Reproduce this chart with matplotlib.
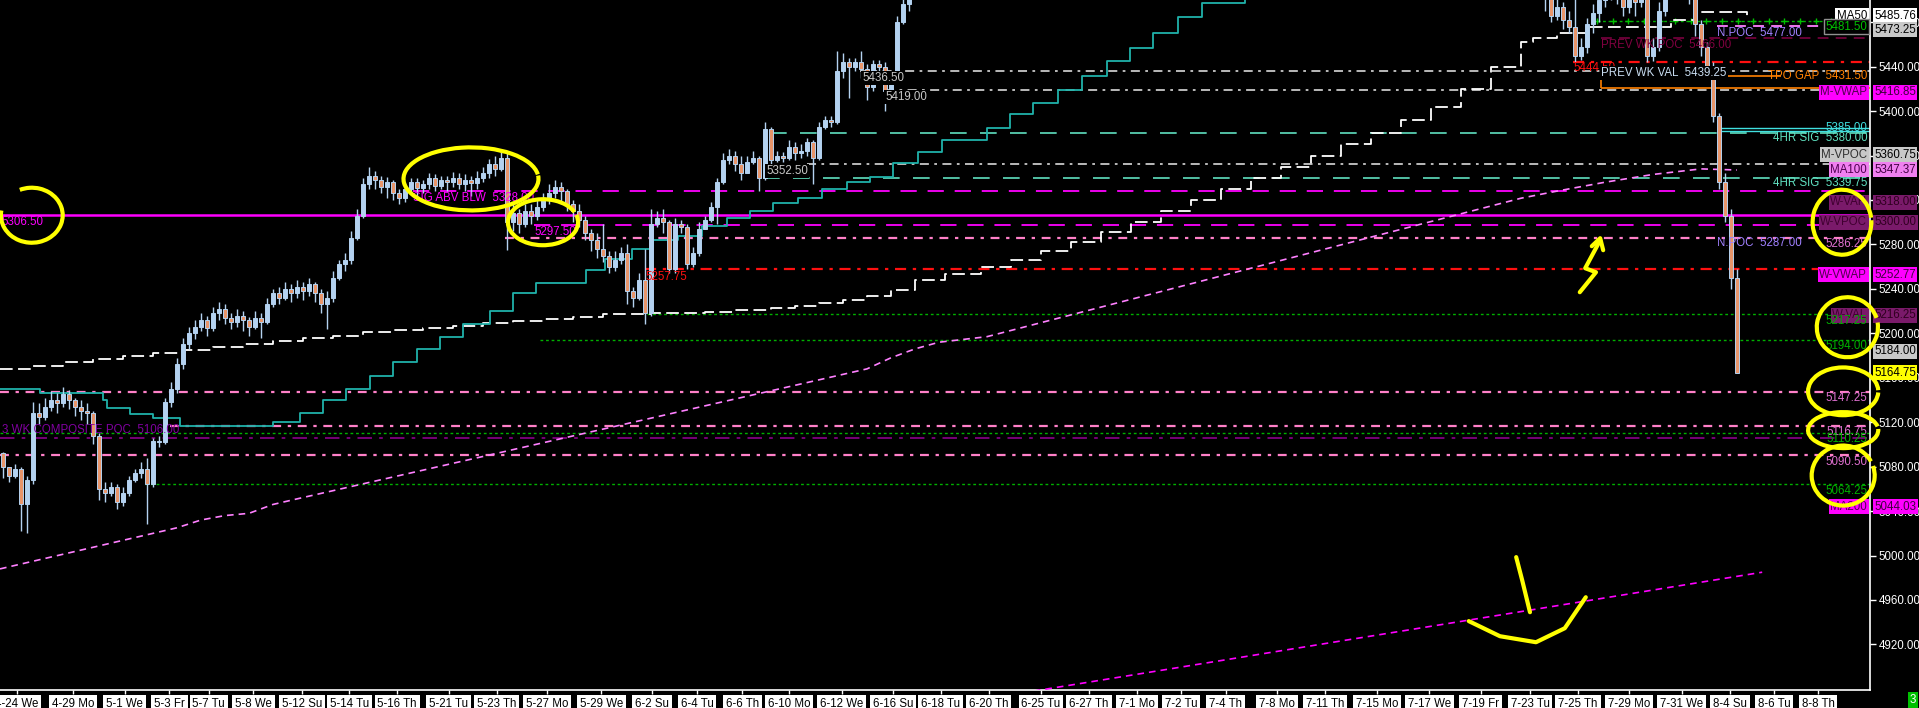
#### Workspace setup ####
import matplotlib.pyplot as plt
from matplotlib.patches import Arc

plt.rcParams['font.family'] = ['Liberation Sans', 'DejaVu Sans']
FS = 8.3
plt.rcParams['font.size'] = FS

#### Data ####
# date ticks, in bar units (one bar = one candle slot)
tick_bars = [2.3, 11.7, 20.3, 27.7, 34.3, 41.7, 49.8, 57.7, 65.7, 74.3, 82.3, 90.7, 99.7,
             108.2, 115.7, 123.2, 131.0, 139.8, 148.3, 156.3, 164.3, 173.0, 181.0, 189.0,
             196.3, 203.8, 212.3, 220.3, 229.0, 237.7, 246.3, 254.5, 262.5, 271.0, 279.8,
             287.8, 295.2, 302.5]
tick_labels = ['4-24 We', '4-29 Mo', '5-1 We', '5-3 Fr', '5-7 Tu', '5-8 We', '5-12 Su',
               '5-14 Tu', '5-16 Th', '5-21 Tu', '5-23 Th', '5-27 Mo', '5-29 We', '6-2 Su',
               '6-4 Tu', '6-6 Th', '6-10 Mo', '6-12 We', '6-16 Su', '6-18 Tu', '6-20 Th',
               '6-25 Tu', '6-27 Th', '7-1 Mo', '7-2 Tu', '7-4 Th', '7-8 Mo', '7-11 Th',
               '7-15 Mo', '7-17 We', '7-19 Fr', '7-23 Tu', '7-25 Th', '7-29 Mo', '7-31 We',
               '8-4 Su', '8-6 Tu', '8-8 Th']
price_ticks = [4920, 4960, 5000, 5040, 5080, 5120, 5160, 5200, 5240, 5280, 5320, 5360,
               5400, 5440, 5480]

# candles, first block (starts at bar 0)
seg1_open = 5092
seg1_close = [5080, 5072, 5078, 5046, 5068, 5128, 5125, 5134, 5140, 5137,
              5145, 5140, 5134, 5130, 5128, 5108, 5060, 5056, 5062, 5048,
              5056, 5068, 5074, 5078, 5064, 5103, 5102, 5138, 5150, 5172,
              5190, 5200, 5206, 5212, 5205, 5218, 5222, 5214, 5210, 5216,
              5212, 5206, 5214, 5210, 5226, 5236, 5232, 5240, 5236, 5242,
              5238, 5244, 5236, 5226, 5232, 5250, 5262, 5266, 5286, 5306,
              5334, 5342, 5338, 5332, 5336, 5326, 5322, 5330, 5336, 5331,
              5334, 5340, 5333, 5338, 5336, 5340, 5334, 5338, 5335, 5340,
              5344, 5352, 5348, 5358, 5300, 5308, 5298, 5310, 5306, 5314,
              5320, 5326, 5332, 5328, 5316, 5310, 5302, 5290, 5284, 5276,
              5270, 5260, 5266, 5272, 5238, 5232, 5248, 5218, 5298, 5304,
              5300, 5258, 5298, 5296, 5262, 5272, 5294, 5302, 5314, 5336,
              5356, 5360, 5352, 5344, 5354, 5358, 5340, 5384, 5356, 5360,
              5358, 5368, 5362, 5364, 5372, 5358, 5386, 5392, 5390, 5436,
              5444, 5440, 5444, 5438, 5422, 5442, 5440, 5418, 5430, 5480,
              5496, 5510]
seg1_high = [5093, 5080, 5082, 5080, 5072, 5138, 5137, 5142, 5148, 5146,
             5152, 5149, 5142, 5140, 5137, 5130, 5110, 5066, 5066, 5064,
             5062, 5072, 5078, 5084, 5088, 5106, 5108, 5142, 5156, 5178,
             5196, 5206, 5212, 5218, 5216, 5224, 5228, 5226, 5218, 5222,
             5220, 5215, 5220, 5218, 5232, 5240, 5242, 5246, 5244, 5248,
             5246, 5250, 5246, 5240, 5238, 5256, 5266, 5272, 5292, 5312,
             5340, 5350, 5346, 5342, 5341, 5338, 5330, 5335, 5340, 5340,
             5338, 5344, 5343, 5342, 5342, 5345, 5344, 5343, 5342, 5346,
             5350, 5357, 5360, 5364, 5362, 5316, 5312, 5316, 5316, 5320,
             5326, 5334, 5338, 5336, 5330, 5320, 5316, 5306, 5294, 5290,
             5298, 5274, 5274, 5278, 5280, 5242, 5254, 5276, 5312, 5310,
             5312, 5302, 5304, 5302, 5298, 5278, 5300, 5306, 5318, 5340,
             5362, 5366, 5364, 5360, 5360, 5364, 5360, 5390, 5386, 5364,
             5363, 5374, 5372, 5370, 5376, 5374, 5390, 5396, 5396, 5454,
             5452, 5448, 5448, 5454, 5442, 5446, 5446, 5444, 5436, 5486,
             5504, 5520]
seg1_low = [5070, 5066, 5070, 5022, 5020, 5064, 5118, 5122, 5130, 5128,
            5134, 5132, 5126, 5122, 5118, 5100, 5050, 5048, 5054, 5042,
            5045, 5054, 5066, 5070, 5028, 5062, 5098, 5100, 5134, 5146,
            5168, 5186, 5195, 5202, 5198, 5202, 5212, 5208, 5204, 5206,
            5202, 5198, 5204, 5196, 5208, 5224, 5226, 5230, 5228, 5232,
            5230, 5234, 5228, 5218, 5204, 5228, 5248, 5256, 5262, 5284,
            5304, 5330, 5330, 5326, 5322, 5320, 5316, 5318, 5326, 5324,
            5326, 5330, 5328, 5330, 5328, 5332, 5330, 5328, 5324, 5330,
            5336, 5340, 5342, 5346, 5275, 5292, 5290, 5296, 5298, 5302,
            5310, 5316, 5322, 5318, 5310, 5300, 5296, 5284, 5274, 5268,
            5264, 5254, 5256, 5262, 5226, 5224, 5230, 5208, 5216, 5296,
            5290, 5254, 5254, 5290, 5258, 5260, 5270, 5294, 5300, 5298,
            5334, 5352, 5346, 5338, 5348, 5352, 5328, 5338, 5352, 5354,
            5354, 5356, 5356, 5358, 5360, 5334, 5356, 5384, 5386, 5388,
            5430, 5412, 5436, 5430, 5410, 5418, 5432, 5400, 5416, 5428,
            5478, 5490]

# candles, second block (late July into the Aug 5 drop)
seg2_start = 257
seg2_open = 5520
seg2_close = [5510, 5486, 5494, 5482, 5476, 5450, 5458, 5478, 5488, 5500, 5510,
              5520, 5508, 5494, 5506, 5498, 5512, 5450, 5458, 5490, 5508, 5520,
              5530, 5518, 5505, 5478, 5458, 5440, 5396, 5336, 5306, 5250, 5164.75]
seg2_high = [5530, 5512, 5505, 5498, 5490, 5504, 5466, 5484, 5496, 5512, 5520,
             5530, 5524, 5512, 5514, 5512, 5520, 5516, 5466, 5498, 5520, 5530,
             5540, 5534, 5522, 5508, 5482, 5462, 5444, 5398, 5344, 5312, 5258]
seg2_low = [5490, 5480, 5482, 5474, 5470, 5444, 5446, 5452, 5470, 5480, 5494,
            5500, 5496, 5486, 5488, 5486, 5494, 5444, 5445, 5454, 5486, 5504,
            5512, 5510, 5496, 5468, 5450, 5436, 5390, 5330, 5300, 5240, 5164.75]

# MA50 (stepped, white)
ma50_bars = [-0.5, 5, 10, 15, 20, 25, 30, 35, 40, 45, 50, 55, 60, 65, 70, 75, 80, 85, 90,
             95, 100, 108, 117, 122, 128, 132, 136, 140, 144, 148, 152, 157, 163, 168, 173,
             178, 183, 188, 193, 198, 203, 208, 213, 218, 223, 228, 233, 238, 243, 248, 253,
             255, 259, 264, 278, 282, 288, 290.7]
ma50_vals = [5168, 5171, 5174, 5177, 5180, 5182, 5185, 5188, 5190, 5193, 5196, 5198, 5201,
             5203, 5205, 5207, 5209, 5211, 5213, 5215, 5217, 5218, 5219, 5221, 5223, 5225,
             5227, 5230, 5234, 5239, 5248, 5253, 5260, 5266, 5274, 5282, 5291, 5300, 5310,
             5320, 5330, 5340, 5350, 5360, 5370, 5380, 5392, 5404, 5420, 5440, 5462, 5466,
             5470, 5476, 5482, 5489, 5489, 5486]

# MA100 (pink dashed)
ma100_bars = [-0.5, 29, 33, 37, 41, 45, 49, 144, 148, 152, 156, 164, 253, 259, 267, 275, 283, 289]
ma100_vals = [4988, 5025, 5032, 5036, 5038, 5046, 5051, 5168, 5178, 5186, 5192, 5197,
              5321.6, 5328, 5336, 5343, 5348, 5347]

# lower magenta average
ma_low_bars = [171.8, 293.2]
ma_low_vals = [4878, 4985]

# 4HR signal step line (teal)
sig_bars = [-0.5, 6.2, 16.7, 17.3, 21.2, 25, 29.5, 45, 49.5, 53.3, 57.2, 61.2, 65, 69, 72.8,
            76.7, 81.2, 85, 88.8, 97.2, 100.3, 104.8, 108.3, 112.5, 116.5, 120.7, 124.5,
            128.3, 132.5, 136.5, 140.7, 144.5, 148.3, 152.5, 156.5, 164, 167.8, 171.7, 175.8,
            179.8, 184, 187.8, 191.7, 195.8, 199.8, 207]
sig_vals = [5150, 5146, 5140, 5133, 5127, 5124, 5117, 5120, 5128, 5140, 5150, 5162, 5174,
            5186, 5197, 5208, 5220, 5236, 5245, 5257, 5267, 5276, 5284, 5288, 5297, 5304,
            5310, 5317, 5322, 5330, 5336, 5341, 5353, 5363, 5374, 5385, 5397, 5407, 5419,
            5431.5, 5445, 5456.6, 5470, 5485, 5497, 5510]

# horizontal levels
level_prices = [5306.50, 5328.00, 5297.50, 5286.25, 5257.75, 5217.25, 5194.00, 5147.25,
                5116.75, 5110.25, 5106.00, 5090.50, 5064.25, 5380.00, 5339.75, 5352.50,
                5436.50, 5419.00, 5444.50, 5466.00, 5477.00, 5385.00, 5382.50]
level_starts = [-0.5, 68.3, 88.5, 83.7, 107, 107.3, 89.5, -0.5, 27.8, -0.5, -0.5, -0.5, 23.7,
                127.8, 126.7, 134, 142.8, 147, 261.7, 266.3, 285.7, 285.8, 285.8]
level_kinds = ['magenta', 'magenta_dash', 'magenta_dash', 'pink', 'red', 'green', 'green',
               'pink', 'pink', 'green', 'purple', 'pink', 'green', 'mint', 'mint', 'gray',
               'gray', 'gray', 'red', 'maroon', 'npoc', 'cyan', 'cyan']

#### Styles ####
BG = 'black'
UP = '#b4d2f0'
DOWN = '#e8956a'
LINE_STYLE = {
    'magenta': dict(color='#ff00ff', ls='-', lw=1.8),
    'magenta_dash': dict(color='#ff00ff', ls=(0, (9, 6)), lw=1.3),
    'pink': dict(color='#ff80c8', ls=(0, (4, 3, 1.5, 3)), lw=1.6),
    'red': dict(color='#ff1010', ls=(0, (5, 3, 1.5, 3)), lw=1.6),
    'green': dict(color='#00b000', ls=(0, (2, 2)), lw=1.0),
    'purple': dict(color='#800080', ls=(0, (8, 4, 2, 4)), lw=1.3),
    'mint': dict(color='#60e0c0', ls=(0, (10, 8)), lw=1.2),
    'gray': dict(color='#c8c8c8', ls=(0, (5, 3, 1.5, 3)), lw=1.3),
    'maroon': dict(color='#70003a', ls=(0, (6, 4)), lw=1.3),
    'npoc': dict(color='#ff80ff', ls=(0, (6, 4)), lw=1.3),
    'cyan': dict(color='#40e0e0', ls='-', lw=1.0),
}


#### Helper functions ####
def draw_candles(ax, start, first_open, closes, highs, lows):
    '''
    Draws a block of candles, open of each bar = close of the bar before.
    '''
    opens = [first_open] + closes[:-1]
    xs = [start + i for i in range(len(closes))]
    ax.vlines(xs, lows, highs, color=UP, lw=1, zorder=4)
    bottoms = [min(o, c) for o, c in zip(opens, closes)]
    heights = [max(abs(c - o), 1.2) for o, c in zip(opens, closes)]
    faces = [UP if c >= o else DOWN for o, c in zip(opens, closes)]
    ax.bar(xs, heights, bottom=bottoms, width=0.62, color=faces, edgecolor=UP,
           linewidth=0.7, zorder=5)


def inner_label(ax, price, text, color, face=None, va='center', edge='none'):
    '''
    Label that sits just left of the price axis.
    '''
    box = None if face is None else dict(boxstyle='square,pad=0.12', fc=face, ec=edge, lw=1)
    ax.text(0.9985, price, text, transform=ax.get_yaxis_transform(), ha='right', va=va,
            color=color, fontsize=FS, zorder=9, bbox=box)


def axis_tag(ax, price, text, face, color='black'):
    '''
    Coloured box on the price axis.
    '''
    ax.text(1.0022, price, text, transform=ax.get_yaxis_transform(), ha='left', va='center',
            color=color, fontsize=FS, zorder=11, clip_on=False,
            bbox=dict(boxstyle='square,pad=0.13', fc=face, ec='none'))


def chart_label(ax, bar, price, text, color, va='top', face=None):
    box = None if face is None else dict(boxstyle='square,pad=0.08', fc=face, ec='none')
    ax.text(bar, price, text, ha='left', va=va, color=color, fontsize=FS, zorder=8, bbox=box)


#### Figure ####
fig = plt.figure(figsize=(19.19, 7.08), dpi=100, facecolor=BG)
ax = fig.add_axes([0, 18 / 708, 1870 / 1919, 690 / 708], facecolor=BG)
x_right = 311.17
ax.set_xlim(-0.5, x_right)
ax.set_ylim(4879, 5500)

# horizontal levels
for price, start, kind in zip(level_prices, level_starts, level_kinds):
    ax.hlines(price, start, x_right, zorder=2, **LINE_STYLE[kind])

# green + marker level
ax.hlines(5481.5, 265.7, x_right, color='#00b000', ls=(0, (2, 2)), lw=1, zorder=2)
plus_x = [265.7 + 2.6 * i for i in range(18)]
ax.plot(plus_x, [5481.5] * len(plus_x), ls='none', marker='+', ms=4, mew=1,
        color='#00c000', zorder=2)

# TPO gap bracket
ax.hlines(5431.5, 285.8, 296.3, color='#ff8000', lw=1.2, zorder=3)
ax.hlines(5420.5, 266.3, x_right, color='#ff8000', lw=1.2, zorder=3)
ax.vlines(266.3, 5420.5, 5438, color='#ff8000', lw=1.2, zorder=3)

# moving averages and signal line
ax.plot(ma50_bars, ma50_vals, drawstyle='steps-post', color='white', lw=1.3,
        ls=(0, (7, 3)), zorder=3)
ax.plot(ma100_bars, ma100_vals, color='#ff80ff', lw=1.2, ls=(0, (4, 3)), zorder=3)
ax.plot(ma_low_bars, ma_low_vals, color='#ff00ff', lw=1.2, ls=(0, (4, 3)), zorder=3)
ax.plot(sig_bars, sig_vals, drawstyle='steps-post', color='#20b2aa', lw=1.3, zorder=3)

# candles
draw_candles(ax, 0, seg1_open, seg1_close, seg1_high, seg1_low)
draw_candles(ax, seg2_start, seg2_open, seg2_close, seg2_high, seg2_low)

# labels inside the chart
chart_label(ax, -0.2, 5305.5, '5306.50', '#ff00ff')
chart_label(ax, 68.3, 5327, 'SIG ABV BLW  5328.00', '#ff00ff')
chart_label(ax, 88.5, 5296.5, '5297.50', '#ff00ff')
chart_label(ax, 107, 5256.5, '5257.75', '#ff1010')
chart_label(ax, 127.2, 5351.5, '5352.50', '#c8c8c8', face='black')
chart_label(ax, 143.2, 5435.5, '5436.50', '#c8c8c8', face='black')
chart_label(ax, 147, 5418, '5419.00', '#c8c8c8', face='black')
chart_label(ax, -0.2, 5107.5, '3 WK COMPOSITE POC  5106.00', '#8000a0', va='bottom')
chart_label(ax, 261.7, 5444, '5444.50', '#ff1010')
chart_label(ax, 266.4, 5465, 'PREV WK POC  5466.00', '#800040')
chart_label(ax, 266.4, 5439.5, 'PREV WK VAL  5439.25', '#c8dcf0', face='black')
chart_label(ax, 285.7, 5476, 'N.POC  5477.00', '#a080ff')
chart_label(ax, 285.7, 5287, 'N.POC  5287.00', '#a080ff')

# labels at the right edge of the chart
inner_label(ax, 5485.76, 'MA50', 'black', face='white')
inner_label(ax, 5476.0, '5481.50', '#00c000', face='black', edge='#909090')
inner_label(ax, 5431.5, 'TPO GAP  5431.50', '#ff8000')
inner_label(ax, 5416.85, 'M-VWAP', '#500050', face='#ff00ff')
inner_label(ax, 5385.0, '5385.00', '#40e0e0', va='center')
inner_label(ax, 5375.5, '4HR SIG  5380.00', '#60e0c0')
inner_label(ax, 5360.75, 'M-VPOC', '#303030', face='#c8c8c8')
inner_label(ax, 5347.37, 'MA100', '#500050', face='#f080f0')
inner_label(ax, 5335.5, '4HR SIG  5339.75', '#60e0c0')
inner_label(ax, 5318.0, 'W-VAH', '#400030', face='#7a1a6a')
inner_label(ax, 5300.0, 'W-VPOC', '#400030', face='#7a1a6a')
inner_label(ax, 5280.5, '5286.25', '#e070d0')
inner_label(ax, 5252.77, 'W-VWAP', '#500050', face='#ff00ff')
inner_label(ax, 5216.25, 'W-VAL', '#400030', face='#7a1a6a')
inner_label(ax, 5211.5, '5217.25', '#00b000')
inner_label(ax, 5188.5, '5194.00', '#00b000')
inner_label(ax, 5141.5, '5147.25', '#e070d0')
inner_label(ax, 5111.0, '5116.75', '#e070d0')
inner_label(ax, 5104.5, '5110.25', '#00b000')
inner_label(ax, 5084.5, '5090.50', '#e070d0')
inner_label(ax, 5058.5, '5064.25', '#00b000')
inner_label(ax, 5044.03, 'MA200', '#500050', face='#ff00ff')

# price axis
ax.yaxis.tick_right()
ax.set_yticks(price_ticks, [f'{p:.2f}' for p in price_ticks])
ax.tick_params(axis='y', colors='white', length=4, width=1, pad=2, labelsize=FS)
axis_tag(ax, 5485.76, '5485.76', 'white')
axis_tag(ax, 5473.25, '5473.25', '#c8c8c8')
axis_tag(ax, 5416.85, '5416.85', '#ff00ff', '#400040')
axis_tag(ax, 5360.75, '5360.75', '#c8c8c8')
axis_tag(ax, 5347.37, '5347.37', '#f080f0', '#400040')
axis_tag(ax, 5318.00, '5318.00', '#7a1a6a', '#300020')
axis_tag(ax, 5300.00, '5300.00', '#7a1a6a', '#300020')
axis_tag(ax, 5252.77, '5252.77', '#ff00ff', '#400040')
axis_tag(ax, 5216.25, '5216.25', '#7a1a6a', '#300020')
axis_tag(ax, 5184.00, '5184.00', '#c8c8c8')
axis_tag(ax, 5164.75, '5164.75', '#ffff00')
axis_tag(ax, 5044.03, '5044.03', '#ff00ff', '#400040')

# date axis
ax.set_xticks(tick_bars, tick_labels)
ax.tick_params(axis='x', colors='white', length=3, width=1, pad=3, labelsize=FS,
               labelcolor='black')
for lbl in ax.get_xticklabels():
    lbl.set_bbox(dict(boxstyle='square,pad=0.25', fc='white', ec='none'))

for side in ['left', 'top']:
    ax.spines[side].set_visible(False)
for side in ['right', 'bottom']:
    ax.spines[side].set_color('white')
    ax.spines[side].set_linewidth(1.2)

# hand drawn yellow marks
ring_x = [4.8, 78.0, 90.0, 306.5, 307.4, 306.7, 306.7, 306.7]
ring_y = [5306.3, 5339.0, 5300.0, 5300.0, 5205.5, 5147.8, 5112.9, 5072.0]
ring_w = [10.3, 22.5, 11.7, 9.8, 10.2, 11.7, 11.7, 10.5]
ring_h = [49.5, 56.7, 41.4, 58.5, 54.0, 43.0, 32.4, 54.0]
ring_gap = [(140, 455), (20, 375), (60, 410), (40, 380), (60, 400), (10, 350), (30, 370), (70, 420)]
for x, y, w, h, (t1, t2) in zip(ring_x, ring_y, ring_w, ring_h, ring_gap):
    ax.add_patch(Arc((x, y), w, h, theta1=t1, theta2=t2, color='#ffff00', lw=3,
                     zorder=12, clip_on=False))

squiggle_x = [262.8, 265.5, 263.7, 266.2]
squiggle_y = [5237, 5255, 5258.6, 5283.8]
head_x = [264.8, 266.2, 266.7]
head_y = [5278.4, 5285.6, 5274.8]
ax.plot(squiggle_x, squiggle_y, color='#ffff00', lw=3, zorder=12, solid_capstyle='round')
ax.plot(head_x, head_y, color='#ffff00', lw=3, zorder=12, solid_capstyle='round')

arrow_a_x = [252.2, 253.2, 254.5]
arrow_a_y = [4998.6, 4977.8, 4949]
arrow_b_x = [244.3, 249.5, 255.5, 260.3, 263.8]
arrow_b_y = [4941, 4927.4, 4922, 4934.6, 4962.5]
ax.plot(arrow_a_x, arrow_a_y, color='#ffff00', lw=3, zorder=12, solid_capstyle='round')
ax.plot(arrow_b_x, arrow_b_y, color='#ffff00', lw=3, zorder=12, solid_capstyle='round')

# little green box in the corner
fig.text(1913 / 1919, 8 / 708, '3', ha='center', va='center', color='white', fontsize=FS,
         bbox=dict(boxstyle='square,pad=0.2', fc='#00c000', ec='none'))

fig.savefig('out.png', dpi=100, facecolor=BG)
